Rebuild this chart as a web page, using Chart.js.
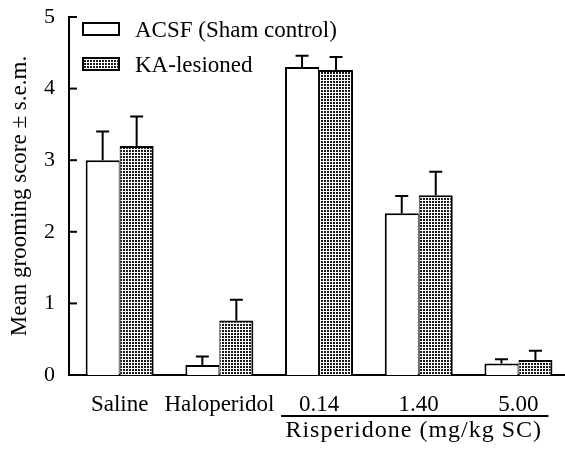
<!DOCTYPE html>
<html>
<head>
<meta charset="utf-8">
<script src="https://cdn.jsdelivr.net/npm/chart.js@4"></script>
<style>
  html, body { margin: 0; padding: 0; background: #fff; }
  #wrap { width: 565px; height: 449px; }
</style>
</head>
<body>
<div id="wrap"><canvas id="chart" width="565" height="449"></canvas></div>
<script>
// groups on the x axis
const groups = ['Saline', 'Haloperidol', '0.14', '1.40', '5.00'];
// ACSF (sham control)
const acsfMean = [3.0, 0.14, 4.30, 2.26, 0.16];
const acsfSem = [0.40, 0.12, 0.16, 0.24, 0.06];
// KA-lesioned
const kaMean = [3.20, 0.76, 4.26, 2.51, 0.21];
const kaSem = [0.41, 0.29, 0.18, 0.33, 0.13];
const yTicks = [0, 1, 2, 3, 4, 5];

const serif = '"Liberation Serif", "DejaVu Serif", serif';

// dotted fill for KA bars
function makeDots() {
    const c = document.createElement('canvas');
    c.width = 3;
    c.height = 3;
    const g = c.getContext('2d');
    g.fillStyle = '#fff';
    g.fillRect(0, 0, 3, 3);
    g.fillStyle = '#1a1a1a';
    g.fillRect(0, 0, 2, 2);
    return g.createPattern(c, 'repeat');
}
const ctx = document.getElementById('chart').getContext('2d');
const dots = makeDots();

const legendItems = [
    { text: 'ACSF (Sham control)', fill: '#fff', cy: 29 },
    { text: 'KA-lesioned', fill: dots, cy: 64 }
];

// error bars (upward only) + y ticks pointing inward + legend + risperidone bracket
const extras = {
    id: 'extras',
    afterDatasetsDraw(chart) {
        const c = chart.ctx;
        const y = chart.scales.y;
        const x = chart.scales.x;
        const sems = [acsfSem, kaSem];
        c.save();
        c.strokeStyle = '#000';
        c.lineWidth = 2;
        chart.data.datasets.forEach((ds, di) => {
            chart.getDatasetMeta(di).data.forEach((bar, i) => {
                const top = y.getPixelForValue(ds.data[i].y + sems[di][i]);
                c.beginPath();
                c.moveTo(bar.x, bar.y);
                c.lineTo(bar.x, top);
                c.moveTo(bar.x - 6.5, top);
                c.lineTo(bar.x + 6.5, top);
                c.stroke();
            });
        });

        // inward ticks on y axis
        const left = chart.chartArea.left;
        yTicks.forEach(v => {
            const py = y.getPixelForValue(v);
            c.beginPath();
            c.moveTo(left, py);
            c.lineTo(left + 8, py);
            c.stroke();
        });

        // legend
        c.font = '23px ' + serif;
        c.textBaseline = 'middle';
        legendItems.forEach(it => {
            c.fillStyle = it.fill;
            c.fillRect(83, it.cy - 6, 36, 12);
            c.lineWidth = 2;
            c.strokeRect(83, it.cy - 6, 36, 12);
            c.fillStyle = '#000';
            c.fillText(it.text, 135, it.cy + 2);
        });

        // risperidone bracket under the three dose labels
        const x0 = x.getPixelForValue(2) - 38;
        const x1 = x.getPixelForValue(4) + 30;
        const ly = chart.chartArea.bottom + 41;
        c.lineWidth = 2;
        c.beginPath();
        c.moveTo(x0, ly);
        c.lineTo(x1, ly);
        c.stroke();
        c.textAlign = 'center';
        c.font = '24px ' + serif;
        c.letterSpacing = '1px';
        c.fillText('Risperidone (mg/kg SC)', (x0 + x1) / 2 - 1, ly + 15);
        c.restore();
    }
};

new Chart(ctx, {
    type: 'bar',
    data: {
        datasets: [
            {
                label: 'ACSF (Sham control)',
                data: acsfMean.map((v, i) => ({ x: i, y: v })),
                backgroundColor: '#fff',
                borderColor: '#000',
                borderWidth: { top: 2, left: 2, right: 1, bottom: 0 },
                borderSkipped: false
            },
            {
                label: 'KA-lesioned',
                data: kaMean.map((v, i) => ({ x: i, y: v })),
                backgroundColor: dots,
                borderColor: '#000',
                borderWidth: { top: 2, left: 1, right: 2, bottom: 0 },
                borderSkipped: false
            }
        ]
    },
    options: {
        responsive: false,
        animation: false,
        devicePixelRatio: 1,
        categoryPercentage: 0.682,
        barPercentage: 1.0,
        layout: { padding: { top: 17, right: 0, left: 0, bottom: 0 } },
        plugins: {
            legend: { display: false },
            tooltip: { enabled: false }
        },
        scales: {
            x: {
                type: 'linear',
                offset: false,
                min: -0.508,
                max: 4.467,
                afterBuildTicks: (scale) => {
                    scale.ticks = groups.map((g, i) => ({ value: i }));
                },
                afterFit: (scale) => {
                    scale.height = 74;
                    scale.paddingLeft = 0;
                    scale.paddingRight = 0;
                },
                grid: { display: false, drawTicks: false },
                border: { display: true, color: '#000', width: 2 },
                ticks: {
                    color: '#000',
                    padding: 16,
                    maxRotation: 0,
                    autoSkip: false,
                    font: { family: serif, size: 23 },
                    callback: (v) => groups[v]
                }
            },
            y: {
                min: 0,
                max: 5,
                afterBuildTicks: (scale) => {
                    scale.ticks = yTicks.map(v => ({ value: v }));
                },
                afterFit: (scale) => {
                    scale.width = 69;
                    scale.paddingTop = 0;
                    scale.paddingBottom = 0;
                },
                grid: { display: false, drawTicks: false },
                border: { display: true, color: '#000', width: 2 },
                ticks: {
                    color: '#000',
                    padding: 14,
                    font: { family: serif, size: 22 }
                },
                title: {
                    display: true,
                    text: 'Mean grooming score ± s.e.m.',
                    color: '#000',
                    padding: { top: 6, bottom: 0 },
                    font: { family: serif, size: 23 }
                }
            }
        }
    },
    plugins: [extras]
});
</script>
</body>
</html>
